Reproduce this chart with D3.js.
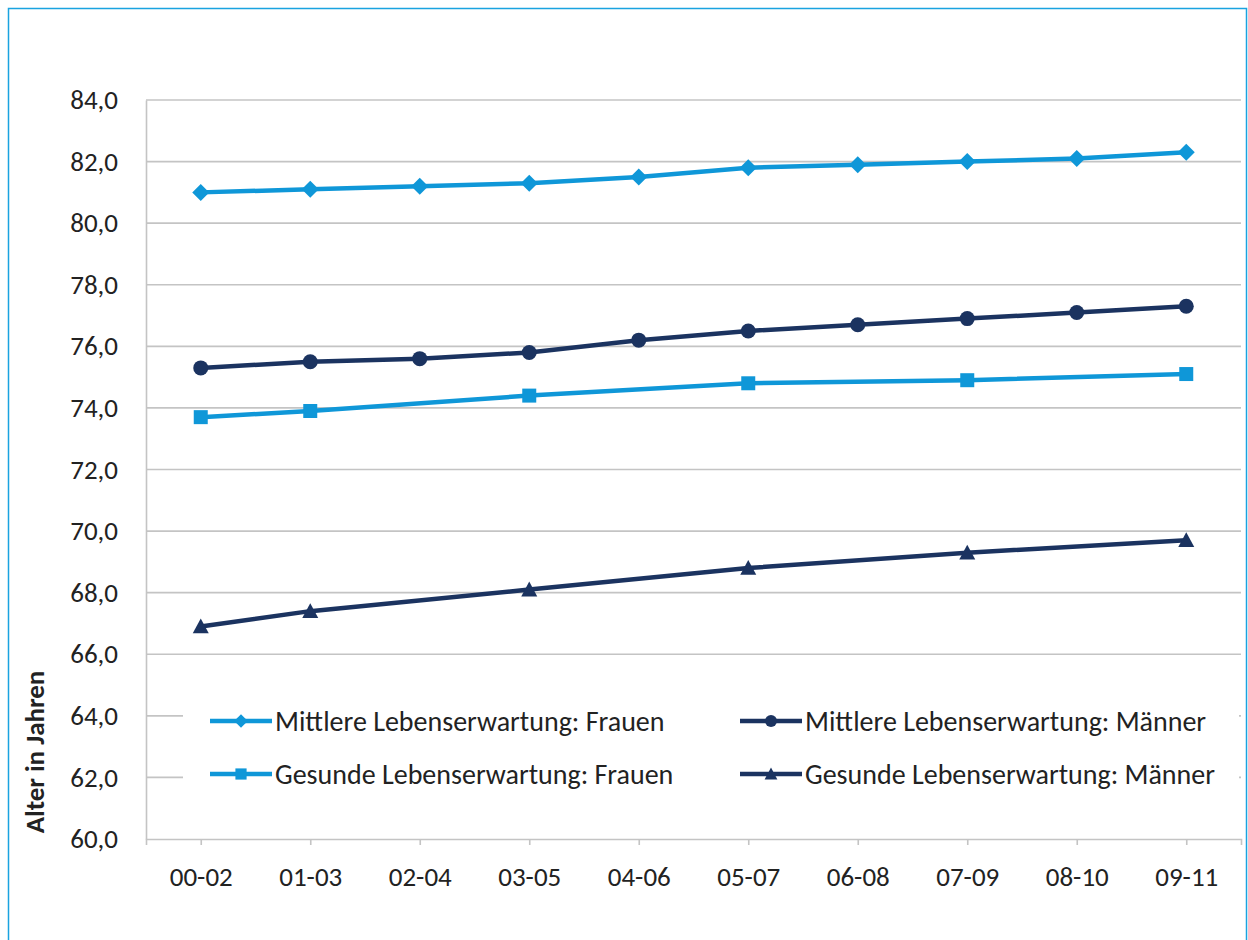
<!DOCTYPE html>
<html>
<head>
<meta charset="utf-8">
<script src="https://cdn.jsdelivr.net/npm/d3@7"></script>
<style>
  html, body { margin: 0; padding: 0; background: #fff; }
  svg { display: block; }
  text { font-family: Carlito, Lato, "Open Sans", sans-serif; fill: #222; }
</style>
</head>
<body>
<svg id="chart" width="1248" height="940"></svg>
<script>
const categories = ["00-02","01-03","02-04","03-05","04-06","05-07","06-08","07-09","08-10","09-11"];
const mittlereFrauen  = [81.0, 81.1, 81.2, 81.3, 81.5, 81.8, 81.9, 82.0, 82.1, 82.3];
const mittlereMaenner = [75.3, 75.5, 75.6, 75.8, 76.2, 76.5, 76.7, 76.9, 77.1, 77.3];
const gesundeFrauen   = [73.7, 73.9, null, 74.4, null, 74.8, null, 74.9, null, 75.1];
const gesundeMaenner  = [66.9, 67.4, null, 68.1, null, 68.8, null, 69.3, null, 69.7];
const yTicks = [60, 62, 64, 66, 68, 70, 72, 74, 76, 78, 80, 82, 84];
const seriesNames = [
  "Mittlere Lebenserwartung: Frauen",
  "Mittlere Lebenserwartung: Männer",
  "Gesunde Lebenserwartung: Frauen",
  "Gesunde Lebenserwartung: Männer"
];
const yTitle = "Alter in Jahren";

const LIGHT = "#0f97d8", DARK = "#1b3360";
const series = [
  { name: seriesNames[0], values: mittlereFrauen,  color: LIGHT, marker: "diamond" },
  { name: seriesNames[1], values: mittlereMaenner, color: DARK,  marker: "circle" },
  { name: seriesNames[2], values: gesundeFrauen,   color: LIGHT, marker: "square" },
  { name: seriesNames[3], values: gesundeMaenner,  color: DARK,  marker: "triangle" }
];

const svg = d3.select("#chart");
const L = 146, R = 1241, T = 100, B = 839;

// outer border
svg.append("rect").attr("x", 8.5).attr("y", 8.5).attr("width", 1238).attr("height", 940)
  .attr("fill", "none").attr("stroke", "#1aa3e0").attr("stroke-width", 1.5);

const x = d3.scalePoint().domain(categories).range([L, R]).padding(0.5);
const y = d3.scaleLinear().domain([60, 84]).range([B, T]);

// gridlines
svg.append("g").selectAll("line").data(yTicks.filter(v => v > 60)).join("line")
  .attr("x1", L).attr("x2", R)
  .attr("y1", d => y(d)).attr("y2", d => y(d))
  .attr("stroke", "#c4c4c4").attr("stroke-width", 1.6);

// y axis
const yAxis = d3.axisLeft(y).tickValues(yTicks).tickSize(0).tickPadding(28)
  .tickFormat(d => d3.format(".1f")(d).replace(".", ","));
const gy = svg.append("g").attr("transform", `translate(${L},0)`).call(yAxis);
gy.select(".domain").attr("stroke", "#c4c4c4").attr("stroke-width", 1.6);
gy.selectAll("text").attr("font-size", 27).style("fill", "#222");

// x axis
const xAxis = d3.axisBottom(x).tickSize(6).tickPadding(22).tickSizeOuter(6);
const gx = svg.append("g").attr("transform", `translate(0,${B})`).call(xAxis);
gx.select(".domain").attr("stroke", "#c4c4c4").attr("stroke-width", 1.6);
gx.selectAll(".tick line").attr("stroke", "#c4c4c4").attr("stroke-width", 1.6);
gx.selectAll("text").attr("font-size", 27).style("fill", "#222");

// y title
svg.append("text")
  .attr("transform", `translate(44,${752}) rotate(-90)`)
  .attr("text-anchor", "middle")
  .attr("font-size", 27).attr("font-weight", "bold")
  .text(yTitle);

function markerPath(type, s) {
  if (type === "diamond") return `M0,${-s}L${s},0L0,${s}L${-s},0Z`;
  if (type === "square") return `M${-s},${-s}H${s}V${s}H${-s}Z`;
  if (type === "triangle") return `M0,${-s}L${s},${s * 0.85}L${-s},${s * 0.85}Z`;
  return d3.symbol(d3.symbolCircle, Math.PI * s * s)();
}
const markerSize = { diamond: 8.5, circle: 7.5, square: 7, triangle: 8 };

const line = d3.line().x(d => x(d.cat)).y(d => y(d.v));

series.forEach(s => {
  const pts = categories.map((c, i) => ({ cat: c, v: s.values[i] })).filter(d => d.v != null);
  const g = svg.append("g");
  g.append("path").datum(pts).attr("d", line)
    .attr("fill", "none").attr("stroke", s.color).attr("stroke-width", 4.5)
    .attr("stroke-linejoin", "round");
  g.selectAll("path.m").data(pts).join("path").attr("class", "m")
    .attr("transform", d => `translate(${x(d.cat)},${y(d.v)})`)
    .attr("d", markerPath(s.marker, markerSize[s.marker]))
    .attr("fill", s.color);
});

// legend
const lg = svg.append("g");
lg.append("rect").attr("x", 183).attr("y", 690).attr("width", 1056).attr("height", 112).attr("fill", "#fff");
const legPos = [
  { lx: 210, ly: 721 }, { lx: 740, ly: 721 },
  { lx: 210, ly: 774 }, { lx: 740, ly: 774 }
];
series.forEach((s, i) => {
  const p = legPos[i];
  const g = lg.append("g").attr("transform", `translate(${p.lx},${p.ly})`);
  g.append("line").attr("x1", 0).attr("x2", 62).attr("y1", 0).attr("y2", 0)
    .attr("stroke", s.color).attr("stroke-width", 4.5);
  g.append("path").attr("transform", "translate(31,0)")
    .attr("d", markerPath(s.marker, markerSize[s.marker] * 0.8)).attr("fill", s.color);
  g.append("text").attr("x", 65).attr("y", 0).attr("dy", "0.35em")
    .attr("font-size", 28).text(s.name);
});
</script>
</body>
</html>
